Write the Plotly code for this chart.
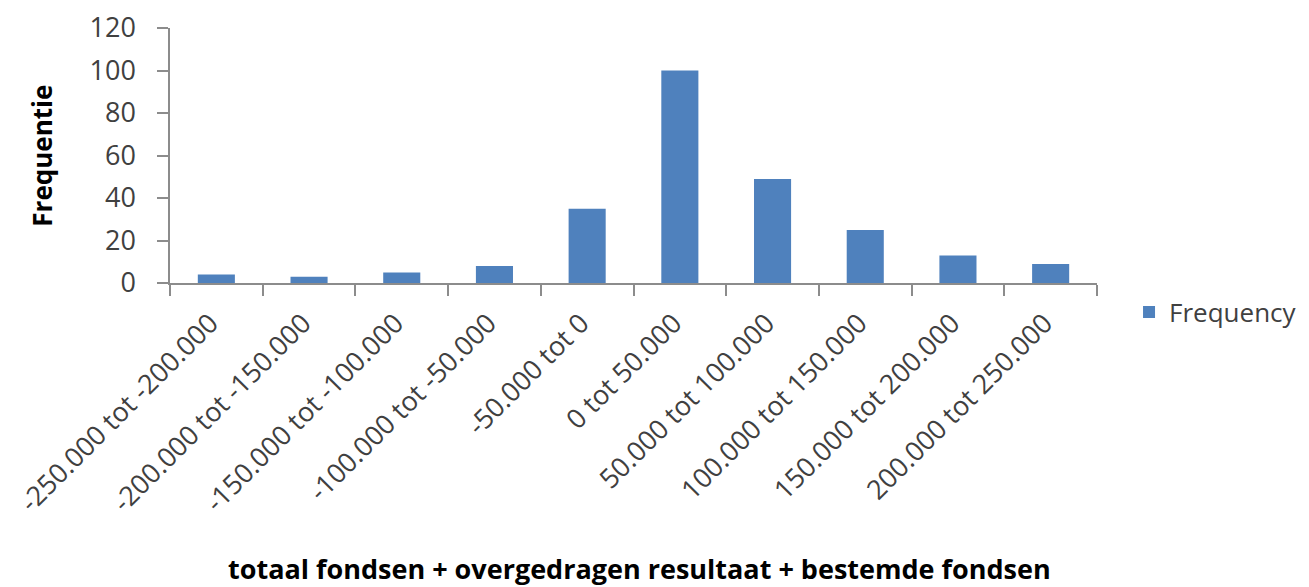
import plotly.graph_objects as go

categories = ["-250.000 tot -200.000", "-200.000 tot -150.000", "-150.000 tot -100.000",
              "-100.000 tot -50.000", "-50.000 tot 0", "0 tot 50.000", "50.000 tot 100.000",
              "100.000 tot 150.000", "150.000 tot 200.000", "200.000 tot 250.000"]
frequency = [4, 3, 5, 8, 35, 100, 49, 25, 13, 9]
y_ticks = [0, 20, 40, 60, 80, 100, 120]

FONT = "Open Sans"
fig = go.Figure()
fig.add_trace(go.Bar(x=categories, y=frequency, name="Frequency",
                     marker=dict(color="#4F81BD", line=dict(width=0)),
                     showlegend=True))

fig.update_layout(
    width=1293, height=579,
    paper_bgcolor="white", plot_bgcolor="white",
    margin=dict(l=162, r=204, t=20, b=304, autoexpand=False),
    bargap=0.6,
    font=dict(family=FONT, color="#404040"),
    showlegend=True,
    legend=dict(xref="container", yref="container", x=0.867, y=0.475,
                xanchor="left", yanchor="middle",
                font=dict(size=26, color="#404040", family=FONT),
                bgcolor="rgba(0,0,0,0)"),
    xaxis=dict(
        type="category",
        automargin=False,
        tickangle=-45,
        tickfont=dict(size=27, color="#404040", family=FONT),
        showline=True, linecolor="#8c8c8c", linewidth=1.5,
        ticks="outside", tickson="boundaries", ticklen=11, tickcolor="#8c8c8c", tickwidth=1.5,
        showgrid=False,
        ticklabelshift=-6,
        ticklabelstandoff=12,
    ),
    yaxis=dict(
        range=[0, 120],
        automargin=False,
        tickvals=y_ticks,
        tickfont=dict(size=27, color="#404040", family=FONT),
        showline=True, linecolor="#8c8c8c", linewidth=1.5,
        ticks="outside", ticklen=11, tickcolor="#8c8c8c", tickwidth=1.5,
        showgrid=False, zeroline=False,
        ticklabelstandoff=16,
    ),
    annotations=[
        dict(text="<b>totaal fondsen + overgedragen resultaat + bestemde fondsen</b>",
             xref="paper", yref="paper", x=0.507, y=-1.12,
             xanchor="center", yanchor="middle", showarrow=False,
             font=dict(size=27, color="#000000", family=FONT)),
        dict(text="<b>Frequentie</b>", textangle=-90,
             xref="paper", yref="paper", x=-0.139, y=0.5,
             xanchor="center", yanchor="middle", showarrow=False,
             font=dict(size=26, color="#000000", family=FONT)),
    ],
)

fig.write_html("out.html")
